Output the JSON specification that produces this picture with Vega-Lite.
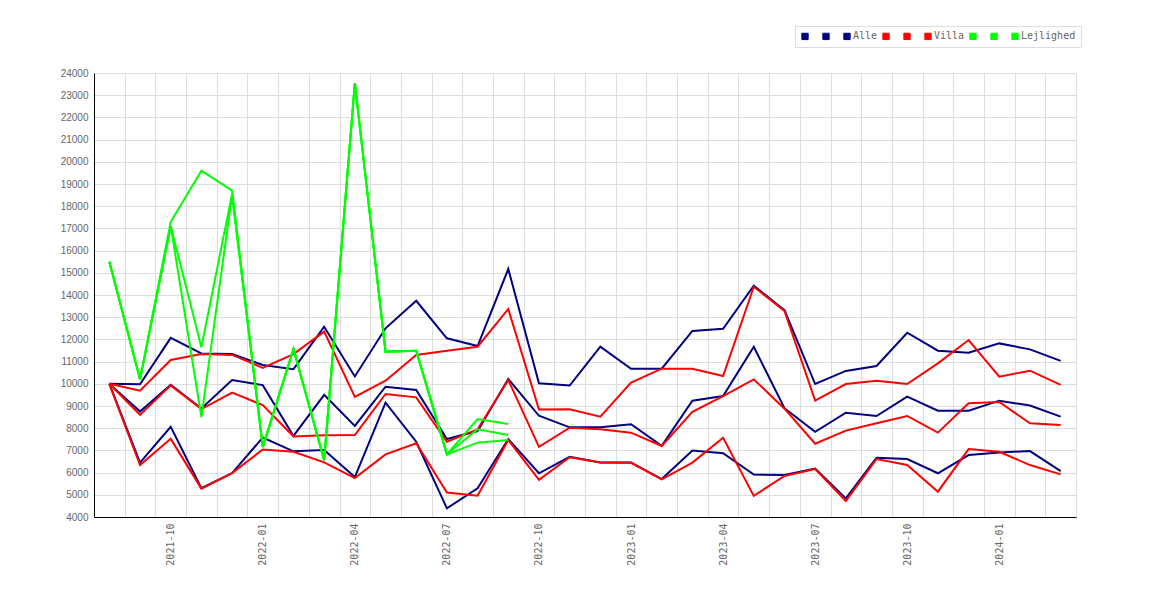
{
  "$schema": "https://vega.github.io/schema/vega-lite/v6.json",
  "autosize": "none",
  "padding": {"left": 94, "top": 73, "right": 94, "bottom": 83},
  "width": 982,
  "height": 444,
  "background": "white",
  "config": {"view": {"stroke": null}},
  "data": {
    "values": [
      {"m": "2021-08", "Alle1": 10000, "Alle2": 10000, "Alle": 10000, "Villa1": 10000, "Villa2": 10000, "Villa": 10000, "Lejlighed1": 15500, "Lejlighed2": 15500, "Lejlighed": 15500},
      {"m": "2021-09", "Alle1": 9980, "Alle2": 8750, "Alle": 6450, "Villa1": 9690, "Villa2": 8600, "Villa": 6340, "Lejlighed1": 10200, "Lejlighed2": 10200, "Lejlighed": 10200},
      {"m": "2021-10", "Alle1": 12070, "Alle2": 9950, "Alle": 8060, "Villa1": 11070, "Villa2": 9930, "Villa": 7520, "Lejlighed1": 17300, "Lejlighed2": 17100, "Lejlighed": 17100},
      {"m": "2021-11", "Alle1": 11370, "Alle2": 8890, "Alle": 5300, "Villa1": 11340, "Villa2": 8860, "Villa": 5280, "Lejlighed1": 19600, "Lejlighed2": 11650, "Lejlighed": 8500},
      {"m": "2021-12", "Alle1": 11340, "Alle2": 10170, "Alle": 5980, "Villa1": 11300, "Villa2": 9600, "Villa": 5980, "Lejlighed1": 18700, "Lejlighed2": 18550, "Lejlighed": 18500},
      {"m": "2022-01", "Alle1": 10850, "Alle2": 9940, "Alle": 7580, "Villa1": 10720, "Villa2": 9040, "Villa": 7040, "Lejlighed1": 7150, "Lejlighed2": 7150, "Lejlighed": 7150},
      {"m": "2022-02", "Alle1": 10660, "Alle2": 7650, "Alle": 6960, "Villa1": 11340, "Villa2": 7630, "Villa": 6940, "Lejlighed1": 11570, "Lejlighed2": 11570, "Lejlighed": 11570},
      {"m": "2022-03", "Alle1": 12570, "Alle2": 9500, "Alle": 7020, "Villa1": 12350, "Villa2": 7680, "Villa": 6460, "Lejlighed1": 6560, "Lejlighed2": 6560, "Lejlighed": 6560},
      {"m": "2022-04", "Alle1": 10330, "Alle2": 8100, "Alle": 5800, "Villa1": 9410, "Villa2": 7690, "Villa": 5750, "Lejlighed1": 23550, "Lejlighed2": 23550, "Lejlighed": 23550},
      {"m": "2022-05", "Alle1": 12500, "Alle2": 9870, "Alle": 9150, "Villa1": 10140, "Villa2": 9540, "Villa": 6820, "Lejlighed1": 11450, "Lejlighed2": 11450, "Lejlighed": 11450},
      {"m": "2022-06", "Alle1": 13740, "Alle2": 9720, "Alle": 7390, "Villa1": 11300, "Villa2": 9390, "Villa": 7320, "Lejlighed1": 11490, "Lejlighed2": 11490, "Lejlighed": 11490},
      {"m": "2022-07", "Alle1": 12050, "Alle2": 7510, "Alle": 4390, "Villa1": 11490, "Villa2": 7390, "Villa": 5100, "Lejlighed1": 6820, "Lejlighed2": 6820, "Lejlighed": 6820},
      {"m": "2022-08", "Alle1": 11700, "Alle2": 7870, "Alle": 5290, "Villa1": 11670, "Villa2": 7950, "Villa": 4960, "Lejlighed1": 8410, "Lejlighed2": 7950, "Lejlighed": 7350},
      {"m": "2022-09", "Alle1": 15170, "Alle2": 10220, "Alle": 7510, "Villa1": 13370, "Villa2": 10170, "Villa": 7470, "Lejlighed1": 8190, "Lejlighed2": 7690, "Lejlighed": 7470},
      {"m": "2022-10", "Alle1": 10020, "Alle2": 8560, "Alle": 5970, "Villa1": 8840, "Villa2": 7160, "Villa": 5670},
      {"m": "2022-11", "Alle1": 9920, "Alle2": 8040, "Alle": 6710, "Villa1": 8850, "Villa2": 8020, "Villa": 6690},
      {"m": "2022-12", "Alle1": 11670, "Alle2": 8040, "Alle": 6460, "Villa1": 8520, "Villa2": 7950, "Villa": 6450},
      {"m": "2023-01", "Alle1": 10680, "Alle2": 8180, "Alle": 6460, "Villa1": 10050, "Villa2": 7800, "Villa": 6440},
      {"m": "2023-02", "Alle1": 10680, "Alle2": 7210, "Alle": 5710, "Villa1": 10680, "Villa2": 7200, "Villa": 5700},
      {"m": "2023-03", "Alle1": 12380, "Alle2": 9240, "Alle": 6990, "Villa1": 10680, "Villa2": 8740, "Villa": 6450},
      {"m": "2023-04", "Alle1": 12480, "Alle2": 9450, "Alle": 6870, "Villa1": 10350, "Villa2": 9440, "Villa": 7570},
      {"m": "2023-05", "Alle1": 14420, "Alle2": 11670, "Alle": 5910, "Villa1": 14370, "Villa2": 10200, "Villa": 4950},
      {"m": "2023-06", "Alle1": 13320, "Alle2": 8900, "Alle": 5890, "Villa1": 13280, "Villa2": 8880, "Villa": 5850},
      {"m": "2023-07", "Alle1": 9990, "Alle2": 7840, "Alle": 6180, "Villa1": 9240, "Villa2": 7300, "Villa": 6160},
      {"m": "2023-08", "Alle1": 10580, "Alle2": 8700, "Alle": 4840, "Villa1": 9990, "Villa2": 7890, "Villa": 4720},
      {"m": "2023-09", "Alle1": 10800, "Alle2": 8550, "Alle": 6670, "Villa1": 10140, "Villa2": 8220, "Villa": 6610},
      {"m": "2023-10", "Alle1": 12300, "Alle2": 9420, "Alle": 6610, "Villa1": 9990, "Villa2": 8550, "Villa": 6340},
      {"m": "2023-11", "Alle1": 11490, "Alle2": 8790, "Alle": 5970, "Villa1": 10920, "Villa2": 7800, "Villa": 5140},
      {"m": "2023-12", "Alle1": 11400, "Alle2": 8790, "Alle": 6790, "Villa1": 11970, "Villa2": 9120, "Villa": 7060},
      {"m": "2024-01", "Alle1": 11820, "Alle2": 9240, "Alle": 6910, "Villa1": 10320, "Villa2": 9180, "Villa": 6940},
      {"m": "2024-02", "Alle1": 11550, "Alle2": 9020, "Alle": 6970, "Villa1": 10590, "Villa2": 8220, "Villa": 6340},
      {"m": "2024-03", "Alle1": 11030, "Alle2": 8520, "Alle": 6070, "Villa1": 9950, "Villa2": 8140, "Villa": 5920}
    ]
  },
  "transform": [
    {"fold": ["Alle1", "Alle2", "Alle", "Villa1", "Villa2", "Villa", "Lejlighed1", "Lejlighed2", "Lejlighed"], "as": ["serie", "pris"]},
    {"filter": "isValid(datum.pris)"}
  ],
  "mark": {"type": "line", "strokeWidth": 2},
  "encoding": {
    "x": {
      "field": "m",
      "type": "ordinal",
      "sort": null,
      "scale": {"type": "band", "paddingInner": 0, "paddingOuter": 0},
      "axis": {
        "title": null,
        "grid": true,
        "gridColor": "#dddddd",
        "tickBand": "extent",
        "ticks": false,
        "domainColor": "black",
        "labelAngle": -90,
        "labelPadding": 6,
        "labelFont": "DejaVu Sans Mono",
        "labelFontSize": 10,
        "labelColor": "#666666",
        "labelExpr": "indexof(['01','04','07','10'], substring(datum.value, 5, 7)) >= 0 ? datum.value : ''"
      }
    },
    "y": {
      "field": "pris",
      "type": "quantitative",
      "scale": {"domain": [4000, 24000], "nice": false, "zero": false},
      "axis": {
        "title": null,
        "tickCount": 20,
        "format": "d",
        "grid": true,
        "gridColor": "#dddddd",
        "ticks": false,
        "domainColor": "black",
        "labelPadding": 6,
        "labelFont": "Liberation Sans",
        "labelFontSize": 10,
        "labelColor": "#666666"
      }
    },
    "color": {
      "field": "serie",
      "type": "nominal",
      "sort": ["Alle1", "Alle2", "Alle", "Villa1", "Villa2", "Villa", "Lejlighed1", "Lejlighed2", "Lejlighed"],
      "scale": {
        "domain": ["Alle1", "Alle2", "Alle", "Villa1", "Villa2", "Villa", "Lejlighed1", "Lejlighed2", "Lejlighed"],
        "range": ["#000080", "#000080", "#000080", "#ff0000", "#ff0000", "#ff0000", "#00ff00", "#00ff00", "#00ff00"]
      },
      "legend": {
        "title": null,
        "orient": "none",
        "legendX": 701,
        "legendY": -47,
        "direction": "horizontal",
        "columns": 9,
        "symbolType": "square",
        "symbolSize": 40,
        "symbolStrokeWidth": 1,
        "labelFont": "DejaVu Sans Mono",
        "labelFontSize": 10,
        "labelColor": "#666666",
        "labelOffset": 1,
        "columnPadding": 2,
        "padding": 5,
        "strokeColor": "#dddddd",
        "labelExpr": "indexof(['Alle','Villa','Lejlighed'], datum.label) >= 0 ? datum.label : '_'",
        "encode": {
          "symbols": {
            "update": {
              "fill": {"scale": "color", "field": "value"},
              "stroke": {"value": "#555555"},
              "opacity": {"value": 1}
            }
          },
          "labels": {
            "update": {
              "fillOpacity": [
                {"test": "indexof(['Alle','Villa','Lejlighed'], datum.label) < 0", "value": 0},
                {"value": 1}
              ]
            }
          }
        }
      }
    }
  }
}
